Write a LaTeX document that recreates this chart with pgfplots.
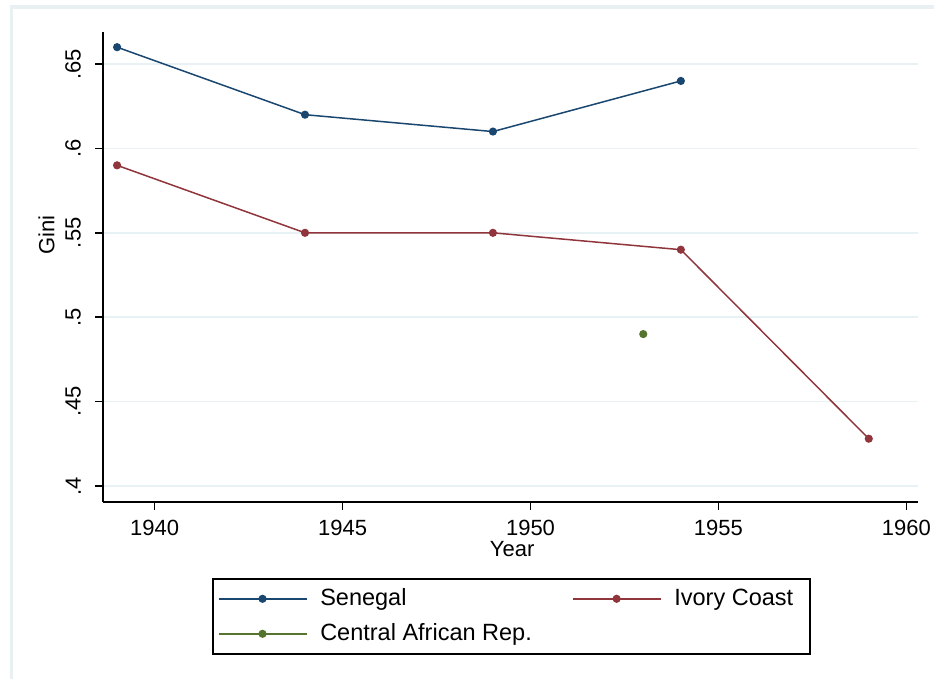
\documentclass[border=0pt]{standalone}
\usepackage{fontspec}
\setmainfont{Liberation Sans}
\usepackage{pgfplots}
\pgfplotsset{compat=1.18}
\definecolor{sen}{RGB}{26,71,111}
\definecolor{ivc}{RGB}{144,53,59}
\definecolor{car}{RGB}{85,117,47}
\definecolor{gridc}{RGB}{232,241,243}
\definecolor{framec}{RGB}{232,240,241}
\begin{document}
\begin{tikzpicture}
\begin{axis}[
 at={(0pt,0pt)}, anchor=south west,
 scale only axis, width=815pt, height=470pt,
 xmin=1938.625, xmax=1960.31, ymin=0.3905, ymax=0.669,
 axis x line*=bottom, axis y line*=left,
 axis line style={line width=1.6pt, black},
 xtick={1940,1945,1950,1955,1960}, xticklabels={1940,1945,1950,1955,1960},
 ytick={0.4,0.45,0.5,0.55,0.6,0.65}, yticklabels={.4,.45,.5,.55,.6,.65},
 tick align=outside, major tick length=8pt,
 tick style={line width=1.6pt, black},
 ymajorgrids, grid style={gridc, line width=1.6pt},
 ticklabel style={font=\fontsize{22}{26}\selectfont, inner sep=0pt},
 xticklabel style={yshift=-10pt},
 yticklabel style={rotate=90, anchor=south, yshift=14pt},
 xlabel={Year}, ylabel={Gini},
 label style={font=\fontsize{22}{26}\selectfont, inner sep=0pt},
 xlabel style={at={(axis description cs:0.502,-0.083)}, anchor=north},
 ylabel style={at={(axis description cs:-0.0693,0.568)}, anchor=center},
 legend columns=2,
 legend cell align=left,
 legend image code/.code={\draw[mark repeat=2,mark phase=2,#1] plot coordinates {(0pt,0pt) (44pt,0pt) (88pt,0pt)};},
 legend style={at={(axis description cs:0.1337,-0.1617)}, anchor=north west,
   draw=black, line width=1.6pt, font=\fontsize{23.5}{28}\selectfont,
   inner xsep=5pt, inner ysep=8pt,
   /tikz/every even column/.append style={column sep=40pt},
   /tikz/every odd column/.append style={column sep=13pt},
   nodes={inner sep=0pt, text height=19pt, text depth=5pt}, row sep=11pt},
]
\addplot[sen, line width=1.5pt, mark=*, mark size=3.3pt] coordinates {(1939,0.66)(1944,0.62)(1949,0.61)(1954,0.64)};
\addlegendentry{Senegal}
\addplot[ivc, line width=1.5pt, mark=*, mark size=3.3pt] coordinates {(1939,0.59)(1944,0.55)(1949,0.55)(1954,0.54)(1959,0.428)};
\addlegendentry{Ivory Coast\hspace*{12pt}}
\addplot[car, line width=1.5pt, mark=*, mark size=3.3pt] coordinates {(1953,0.49)};
\addlegendentry{Central African Rep.}
\end{axis}
\fill[framec] (-93pt,493pt) rectangle (831pt,497pt);
\fill[framec] (-93pt,-177pt) rectangle (-90pt,497pt);
\pgfresetboundingbox
\path[use as bounding box] (-103pt,-177pt) rectangle (831pt,502pt);
\end{tikzpicture}
\end{document}
